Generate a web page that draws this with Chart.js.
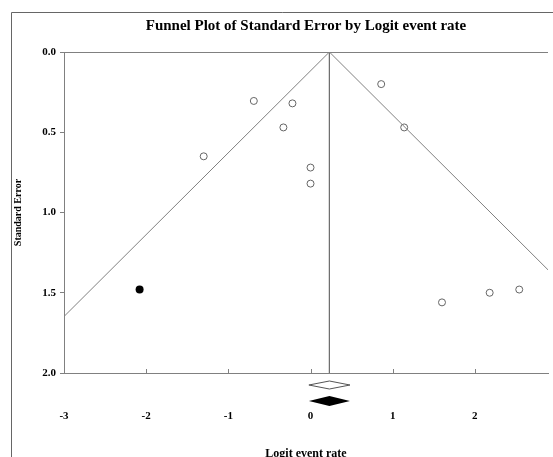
<!DOCTYPE html>
<html>
<head>
<meta charset="utf-8">
<script src="https://cdn.jsdelivr.net/npm/chart.js@4.4.0/dist/chart.umd.min.js"></script>
<style>
  body { margin: 0; background: #fff; }
  canvas { display: block; }
</style>
</head>
<body>
<canvas id="funnel" width="553" height="457"></canvas>
<script>
// observed studies (open circles)
const logitObs = [-0.69, -0.22, -0.33, -1.30, 0.0, 0.0, 0.86, 1.14, 1.60, 2.18, 2.54];
const seObs    = [0.305, 0.32, 0.47, 0.65, 0.72, 0.82, 0.20, 0.47, 1.56, 1.50, 1.48];

// imputed study (filled circle)
const logitImp = [-2.08];
const seImp    = [1.48];

// combined effect and its confidence interval (diamonds)
const meanObs = 0.23, ciObs = [-0.02, 0.48];
const meanImp = 0.23, ciImp = [-0.02, 0.48];

// funnel (95% limits) and the vertical line at the mean
const funnelX  = [-3.69, 0.23, 4.15];
const funnelSE = [2.0, 0.0, 2.0];

const xTicks = [-3, -2, -1, 0, 1, 2];
const yTicks = [0, 0.5, 1.0, 1.5, 2.0];

const serif = "'Liberation Serif', 'Times New Roman', serif";
const axisGray = '#808080';

function pts(xs, ys) {
    return xs.map((x, i) => ({ x: x, y: ys[i] }));
}

// frame around the figure, top line of the plot, inward x ticks, diamonds
const extras = {
    id: 'extras',
    beforeDraw(chart) {
        const ctx = chart.ctx;
        ctx.save();
        ctx.fillStyle = '#fff';
        ctx.fillRect(0, 0, chart.width, chart.height);
        ctx.strokeStyle = '#666';
        ctx.lineWidth = 1;
        ctx.beginPath();
        ctx.moveTo(11.5, chart.height);
        ctx.lineTo(11.5, 12.5);
        ctx.lineTo(chart.width, 12.5);
        ctx.stroke();
        ctx.restore();
    },
    afterDraw(chart) {
        const ctx = chart.ctx;
        const xs = chart.scales.x;
        const area = chart.chartArea;
        ctx.save();
        ctx.strokeStyle = axisGray;
        ctx.lineWidth = 1;
        ctx.beginPath();
        ctx.moveTo(area.left, area.top + 0.5);
        ctx.lineTo(area.right, area.top + 0.5);
        xTicks.forEach(t => {
            const px = Math.round(xs.getPixelForValue(t)) + 0.5;
            ctx.moveTo(px, area.bottom);
            ctx.lineTo(px, area.bottom - 4);
        });
        ctx.stroke();

        function diamond(mean, ci, cy, half, filled) {
            const l = xs.getPixelForValue(ci[0]);
            const r = xs.getPixelForValue(ci[1]);
            const m = xs.getPixelForValue(mean);
            ctx.beginPath();
            ctx.moveTo(l, cy);
            ctx.lineTo(m, cy - half);
            ctx.lineTo(r, cy);
            ctx.lineTo(m, cy + half);
            ctx.closePath();
            if (filled) {
                ctx.fillStyle = '#000';
                ctx.fill();
            } else {
                ctx.fillStyle = '#fff';
                ctx.fill();
                ctx.strokeStyle = '#555';
                ctx.stroke();
            }
        }
        diamond(meanObs, ciObs, area.bottom + 12, 4, false);
        diamond(meanImp, ciImp, area.bottom + 28, 5, true);
        ctx.restore();
    }
};

const ctx = document.getElementById('funnel').getContext('2d');
const chart = new Chart(ctx, {
    type: 'scatter',
    data: {
        datasets: [
            {
                // funnel limits
                type: 'line',
                data: pts(funnelX, funnelSE),
                borderColor: axisGray,
                borderWidth: 1,
                pointRadius: 0,
                fill: false
            },
            {
                // vertical line at the combined effect
                type: 'line',
                data: pts([meanObs, meanObs], [0, 2]),
                borderColor: '#707070',
                borderWidth: 1,
                pointRadius: 0,
                fill: false
            },
            {
                data: pts(logitObs, seObs),
                pointStyle: 'circle',
                pointRadius: 3.5,
                pointBorderWidth: 1,
                pointBorderColor: '#666',
                pointBackgroundColor: '#fff'
            },
            {
                data: pts(logitImp, seImp),
                pointStyle: 'circle',
                pointRadius: 4,
                pointBorderWidth: 0,
                pointBackgroundColor: '#000',
                pointBorderColor: '#000'
            }
        ]
    },
    options: {
        responsive: false,
        animation: false,
        layout: { padding: 0 },
        plugins: {
            legend: { display: false },
            tooltip: { enabled: false },
            title: {
                display: true,
                text: 'Funnel Plot of Standard Error by Logit event rate',
                fullSize: false,
                color: '#000',
                font: { family: serif, weight: 'bold', size: 15 },
                padding: { top: 17, bottom: 17 }
            }
        },
        scales: {
            x: {
                type: 'linear',
                min: -3,
                max: 2.89,
                afterBuildTicks: s => { s.ticks = xTicks.map(v => ({ value: v })); },
                afterFit: s => { s.height = 84; },
                grid: { display: false, drawTicks: false },
                border: { display: true, color: axisGray, width: 1 },
                ticks: {
                    color: '#000',
                    padding: 37,
                    font: { family: serif, weight: 'bold', size: 11 },
                    callback: v => String(v)
                },
                title: {
                    display: true,
                    text: 'Logit event rate',
                    color: '#000',
                    font: { family: serif, weight: 'bold', size: 12 },
                    padding: { top: 0, bottom: -4 }
                }
            },
            y: {
                type: 'linear',
                min: 0,
                max: 2,
                reverse: true,
                afterBuildTicks: s => { s.ticks = yTicks.map(v => ({ value: v })); },
                afterFit: s => { s.width = 64; },
                grid: {
                    display: true,
                    drawOnChartArea: false,
                    drawTicks: true,
                    tickLength: 4,
                    color: axisGray
                },
                border: { display: true, color: axisGray, width: 1 },
                ticks: {
                    color: '#000',
                    padding: 4,
                    font: { family: serif, weight: 'bold', size: 11 },
                    callback: v => v.toFixed(1)
                },
                title: {
                    display: true,
                    text: 'Standard Error',
                    color: '#000',
                    font: { family: serif, weight: 'bold', size: 10 },
                    padding: { top: 12, bottom: 0 }
                }
            }
        }
    },
    plugins: [extras]
});
</script>
</body>
</html>
